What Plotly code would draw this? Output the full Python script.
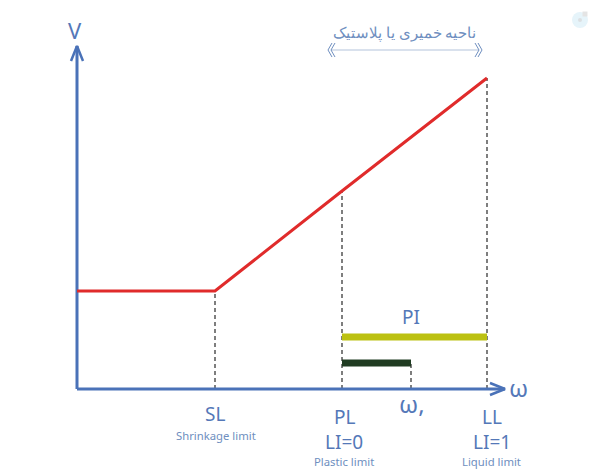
import plotly.graph_objects as go

# water content and volume, measured from the origin of the sketch
sl = 138
pl = 265
w_n = 334
ll = 410
curve_w = [0, sl, pl, ll]
curve_v = [98, 98, 198, 311]
pi_level = 52
w_level = 26
axis_end_x = 428
axis_end_y = 343
plastic_level = 339

BLUE = '#4a72b8'
TEXT = '#5478b8'
LIGHT = '#6f8fc0'
GUIDE = '#3a3a3a'

fig = go.Figure()


def add_line(x, y, color, width, dash=None):
    fig.add_trace(go.Scatter(x=x, y=y, mode='lines',
                             line=dict(color=color, width=width, dash=dash)))


# dashed guides
for x, top in [(sl, curve_v[1]), (pl, curve_v[2]), (w_n, w_level), (ll, curve_v[3])]:
    add_line([x, x], [0, top], GUIDE, 1.3, '4px,3px')

# axes with open arrow heads
add_line([0, axis_end_x], [0, 0], BLUE, 3)
add_line([0, 0], [0, axis_end_y], BLUE, 3)
add_line([axis_end_x - 15, axis_end_x, axis_end_x - 15], [6, 0, -6], BLUE, 2.5)
add_line([-6, 0, 6], [axis_end_y - 15, axis_end_y, axis_end_y - 15], BLUE, 2.5)

# red curve
add_line(curve_w, curve_v, '#e02b2b', 3)

# PI and w bars
add_line([pl, ll], [pi_level, pi_level], '#bcc112', 7)
add_line([pl, w_n], [w_level, w_level], '#203c22', 7)

# plastic zone arrow, double chevrons at both ends
add_line([pl - 11, ll - 8], [plastic_level, plastic_level], '#b4c4dc', 1.2)
for tip in [pl - 14, pl - 11]:
    add_line([tip + 4, tip, tip + 4], [plastic_level + 7, plastic_level, plastic_level - 7], LIGHT, 1)
for tip in [ll - 5, ll - 8]:
    add_line([tip - 4, tip, tip - 4], [plastic_level + 7, plastic_level, plastic_level - 7], LIGHT, 1)

# faint logo, top right
fig.add_trace(go.Scatter(x=[503], y=[369], mode='markers',
                         marker=dict(symbol='circle', size=16, color='#e6f4fa')))
fig.add_trace(go.Scatter(x=[503], y=[369], mode='markers',
                         marker=dict(symbol='circle', size=4, color='#dcdfe2')))
fig.add_trace(go.Scatter(x=[508], y=[375], mode='markers',
                         marker=dict(symbol='square', size=5, color='#e4e4e4')))

font = 'Noto Sans'
labels = [
    ('V', -2, 359, 22, TEXT),
    ('ω', 441, 2, 24, TEXT),
    ('ω,', w_n + 1, -14, 24, TEXT),
    ('PI', w_n, 72, 19, TEXT),
    ('SL', sl, -25, 19, TEXT),
    ('PL', pl + 2, -28, 19, TEXT),
    ('LL', ll + 5, -28, 19, TEXT),
    ('LI=0', pl + 2, -53, 19, TEXT),
    ('LI=1', ll + 5, -53, 19, TEXT),
    ('Shrinkage limit', sl + 1, -46, 11.3, LIGHT),
    ('Plastic limit', pl + 2, -72, 11.3, LIGHT),
    ('Liquid limit', ll + 4, -72, 11.3, LIGHT),
    ('ناحیه خمیری یا پلاستیک', pl + 62, 357, 14.5, LIGHT),
]
for text, x, y, size, color in labels:
    fig.add_annotation(x=x, y=y, text=text, showarrow=False,
                       font=dict(family=font, size=size, color=color))

fig.update_xaxes(range=[-77, 523], visible=False)
fig.update_yaxes(range=[-87, 389], visible=False)
fig.update_layout(width=600, height=476, margin=dict(l=0, r=0, t=0, b=0),
                  plot_bgcolor='white', paper_bgcolor='white', showlegend=False)

fig.write_html("out.html", config={'displayModeBar': False},
               post_script="document.body.style.margin = '0';")
